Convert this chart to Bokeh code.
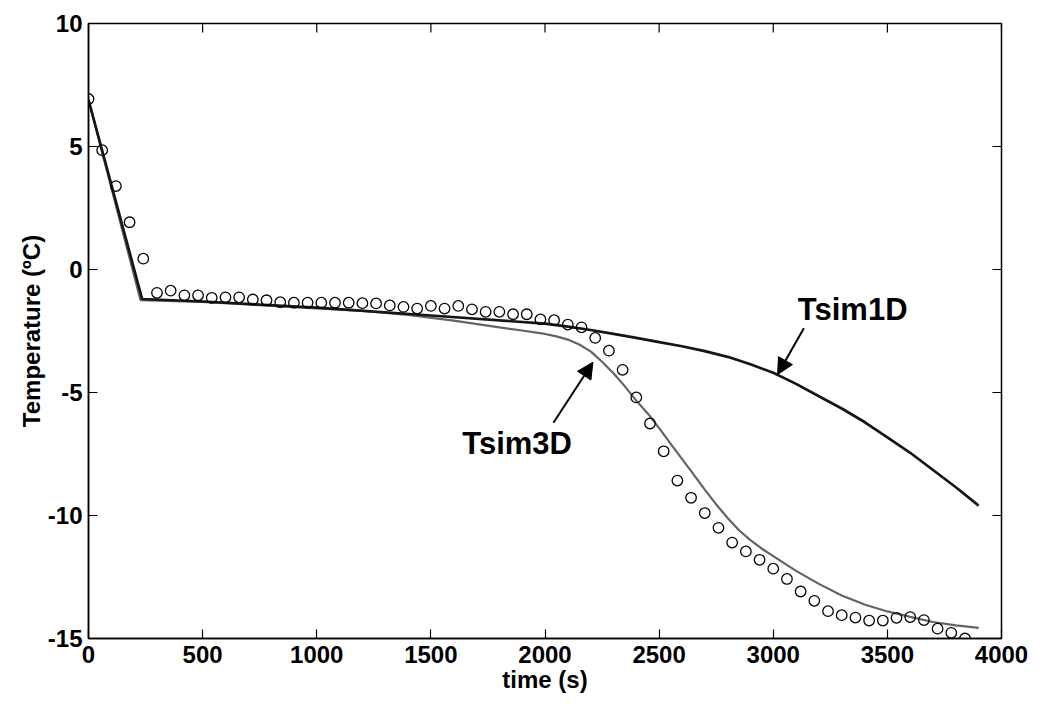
import math
from bokeh.plotting import figure
from bokeh.models import Range1d, Arrow, NormalHead, Label, FixedTicker
from bokeh.embed import file_html
from bokeh.resources import INLINE

# ---- data ----
t_exp = [0, 60, 120, 180, 240, 300, 360, 420, 480, 540, 600, 660, 720, 780, 840, 900,
         960, 1020, 1080, 1140, 1200, 1260, 1320, 1380, 1440, 1500, 1560, 1620, 1680,
         1740, 1800, 1860, 1920, 1980, 2040, 2100, 2160, 2220, 2280, 2340, 2400, 2460,
         2520, 2580, 2640, 2700, 2760, 2820, 2880, 2940, 3000, 3060, 3120, 3180, 3240,
         3300, 3360, 3420, 3480, 3540, 3600, 3660, 3720, 3780, 3840]
T_exp = [6.93, 4.85, 3.39, 1.92, 0.44, -0.95, -0.86, -1.05, -1.05, -1.15, -1.13, -1.13,
         -1.22, -1.25, -1.33, -1.35, -1.35, -1.35, -1.35, -1.35, -1.37, -1.38, -1.46,
         -1.52, -1.59, -1.48, -1.59, -1.48, -1.62, -1.72, -1.72, -1.82, -1.82, -2.03,
         -2.06, -2.24, -2.35, -2.78, -3.30, -4.08, -5.20, -6.26, -7.39, -8.58, -9.28,
         -9.90, -10.50, -11.10, -11.46, -11.80, -12.16, -12.58, -13.09, -13.47, -13.89,
         -14.05, -14.15, -14.27, -14.27, -14.16, -14.13, -14.25, -14.60, -14.77, -15.00]

t_1d = [0, 235, 500, 1000, 1500, 2000, 2100, 2200, 2300, 2400, 2500, 2600, 2700, 2800,
        2900, 3000, 3100, 3200, 3300, 3400, 3500, 3600, 3700, 3800, 3900]
T_1d = [6.9, -1.2, -1.3, -1.55, -1.87, -2.2, -2.32, -2.46, -2.62, -2.78, -2.95, -3.12,
        -3.32, -3.55, -3.85, -4.2, -4.65, -5.15, -5.65, -6.2, -6.82, -7.45, -8.15,
        -8.85, -9.6]

t_3d = [0, 228, 500, 1000, 1200, 1400, 1600, 1800, 1900, 2000, 2050, 2100, 2150, 2200,
        2250, 2300, 2350, 2400, 2450, 2500, 2550, 2600, 2650, 2700, 2750, 2800, 2850,
        2900, 2950, 3000, 3100, 3200, 3300, 3400, 3500, 3600, 3700, 3800, 3900]
T_3d = [6.9, -1.25, -1.32, -1.58, -1.68, -1.85, -2.08, -2.35, -2.48, -2.62, -2.72,
        -2.85, -3.05, -3.33, -3.75, -4.22, -4.75, -5.33, -5.85, -6.45, -7.08, -7.7,
        -8.32, -8.95, -9.55, -10.1, -10.6, -11.0, -11.35, -11.65, -12.25, -12.78,
        -13.25, -13.62, -13.9, -14.12, -14.33, -14.47, -14.57]

x_ticks = [0, 500, 1000, 1500, 2000, 2500, 3000, 3500, 4000]
y_ticks = [-15, -10, -5, 0, 5, 10]
y_tick_labels = ["-15", "-10", "-5", "0", "5", "10"]

FONT = "Liberation Sans"
X0, X1, Y0, Y1 = 0, 4000, -15, 10

p = figure(width=1028, height=695, x_range=Range1d(X0, X1), y_range=Range1d(Y0, Y1),
           output_backend="svg", toolbar_location=None,
           min_border_left=88, min_border_right=27, min_border_top=23, min_border_bottom=55)
p.background_fill_color = "white"
p.border_fill_color = "white"
p.grid.visible = False
p.outline_line_color = "black"
p.outline_line_width = 1.5

for ax in (p.xaxis[0], p.yaxis[0]):
    ax.major_label_text_font = FONT
    ax.major_label_text_font_style = "bold"
    ax.major_label_text_font_size = "24px"
    ax.major_label_text_color = "black"
    ax.axis_label_text_font = FONT
    ax.axis_label_text_font_style = "bold"
    ax.axis_label_text_font_size = "24px"
    ax.axis_label_text_color = "black"
    ax.major_tick_in = 9
    ax.major_tick_out = 0
    ax.minor_tick_in = 0
    ax.minor_tick_out = 0
    ax.axis_line_color = "black"
    ax.axis_line_width = 1.5
    ax.major_tick_line_color = "black"
    ax.major_tick_line_width = 1.2

p.xaxis.ticker = FixedTicker(ticks=x_ticks)
p.yaxis.ticker = FixedTicker(ticks=y_ticks)
p.yaxis.major_label_overrides = {t: s for t, s in zip(y_ticks, y_tick_labels)}
p.xaxis.axis_label = "time (s)"
p.yaxis.axis_label = "Temperature (ºC)"
p.xaxis.major_label_standoff = 7
p.xaxis.axis_label_standoff = 0
p.yaxis.major_label_standoff = 6
p.yaxis.axis_label_standoff = 0

# inward ticks on the top and right frame edges (half of each dash is clipped by the frame)
p.scatter(x_ticks, [Y1] * len(x_ticks), marker="dash", size=18, angle=math.pi / 2,
          line_color="black", line_width=1.2)
p.scatter([X1] * len(y_ticks), y_ticks, marker="dash", size=18,
          line_color="black", line_width=1.2)

p.line(t_3d, T_3d, line_color="#636363", line_width=2.2)
p.line(t_1d, T_1d, line_color="#151515", line_width=2.7)
p.scatter(t_exp, T_exp, marker="circle", size=10.5, fill_color=None,
          line_color="black", line_width=1.3)

# annotations
p.add_layout(Arrow(end=NormalHead(size=16, fill_color="black", line_color="black"),
                   x_start=2037, y_start=-6.23, x_end=2210, y_end=-3.77,
                   line_width=2, line_color="black"))
p.add_layout(Arrow(end=NormalHead(size=16, fill_color="black", line_color="black"),
                   x_start=3134, y_start=-2.39, x_end=3019, y_end=-4.27,
                   line_width=2, line_color="black"))
p.add_layout(Label(x=1878, y=-7.08, text="Tsim3D", text_align="center",
                   text_baseline="middle", text_font=FONT, text_font_style="bold",
                   text_font_size="31px", text_color="black"))
p.add_layout(Label(x=3348, y=-1.62, text="Tsim1D", text_align="center",
                   text_baseline="middle", text_font=FONT, text_font_style="bold",
                   text_font_size="31px", text_color="black"))

open("out.html", "w").write(file_html(p, INLINE))
